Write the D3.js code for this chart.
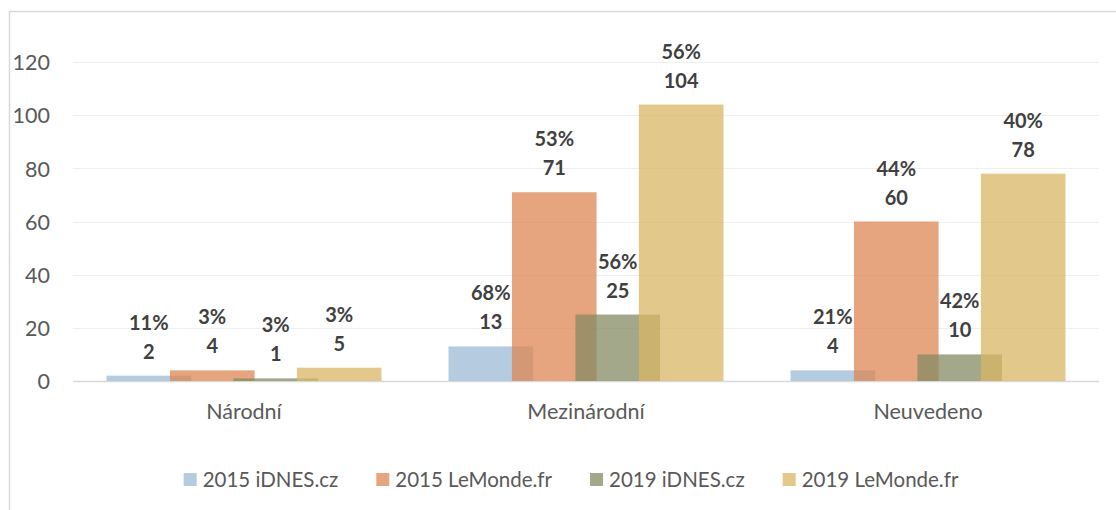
<!DOCTYPE html>
<html>
<head>
<meta charset="utf-8">
<script src="https://cdn.jsdelivr.net/npm/d3@7"></script>
<style>
  html, body { margin: 0; padding: 0; background: #fff; }
  svg { display: block; font-family: Lato, "Open Sans", sans-serif; }
</style>
</head>
<body>
<svg width="1116" height="510"></svg>
<script>
const categories = ['Národní', 'Mezinárodní', 'Neuvedeno'];
const seriesNames = ['2015 iDNES.cz', '2015 LeMonde.fr', '2019 iDNES.cz', '2019 LeMonde.fr'];
const idnes2015 = [2, 13, 4];
const lemonde2015 = [4, 71, 60];
const idnes2019 = [1, 25, 10];
const lemonde2019 = [5, 104, 78];
const pctIdnes2015 = ['11%', '68%', '21%'];
const pctLemonde2015 = ['3%', '53%', '44%'];
const pctIdnes2019 = ['3%', '56%', '42%'];
const pctLemonde2019 = ['3%', '56%', '40%'];
const yTicks = [0, 20, 40, 60, 80, 100, 120];

const values = [idnes2015, lemonde2015, idnes2019, lemonde2019];
const pcts = [pctIdnes2015, pctLemonde2015, pctIdnes2019, pctLemonde2019];
const colors = ['#9bbad6', '#dd8753', '#868b63', '#d8b764'];

const svg = d3.select('svg');

// chart frame (cropped at right and bottom in the original)
svg.append('rect')
  .attr('x', 9.5).attr('y', 11.5)
  .attr('width', 1120).attr('height', 520)
  .attr('fill', '#fff')
  .attr('stroke', '#d9d9d9')
  .attr('stroke-width', 1.5);

const left = 73;
const right = 1099;
const x = d3.scaleBand().domain(categories).range([left, right]).padding(0);
const y = d3.scaleLinear().domain([0, 120]).range([381, 62]);

const barW = x.bandwidth() * 0.2474;
const step = barW * 0.75;
const xs = d3.scalePoint().domain(seriesNames).range([-1.5 * step, 1.5 * step]);

// grid
svg.append('g')
  .selectAll('line')
  .data(yTicks)
  .join('line')
  .attr('x1', left).attr('x2', right)
  .attr('y1', d => Math.round(y(d)) + 0.5)
  .attr('y2', d => Math.round(y(d)) + 0.5)
  .attr('stroke', d => d === 0 ? '#d9d9d9' : '#efefef')
  .attr('stroke-width', d => d === 0 ? 1.5 : 1.2);

// y tick labels
const yAxis = d3.axisLeft(y).tickValues(yTicks).tickSize(0).tickPadding(0);
const gy = svg.append('g').attr('transform', 'translate(50,0)').call(yAxis);
gy.select('.domain').remove();
gy.selectAll('text')
  .attr('font-family', 'Lato, sans-serif')
  .attr('font-size', 21.5)
  .attr('fill', '#595959')
  .attr('dy', '0.36em');

// bars
seriesNames.forEach((s, si) => {
  svg.append('g')
    .selectAll('rect')
    .data(categories)
    .join('rect')
    .attr('x', (c) => x(c) + x.bandwidth() / 2 + xs(s) - barW / 2)
    .attr('width', barW)
    .attr('y', (c, i) => y(values[si][i]))
    .attr('height', (c, i) => y(0) - y(values[si][i]))
    .attr('fill', colors[si])
    .attr('fill-opacity', 0.75);
});

// data labels
seriesNames.forEach((s, si) => {
  const g = svg.append('g')
    .attr('font-family', 'Lato, sans-serif')
    .attr('font-weight', 'bold')
    .attr('font-size', 20)
    .attr('fill', '#404040')
    .attr('text-anchor', 'middle');
  categories.forEach((c, i) => {
    const cx = x(c) + x.bandwidth() / 2 + xs(s);
    const top = y(values[si][i]);
    g.append('text').attr('x', cx).attr('y', top - 46).text(pcts[si][i]);
    g.append('text').attr('x', cx).attr('y', top - 17).text(values[si][i]);
  });
});

// category labels
const xAxis = d3.axisBottom(x).tickSize(0).tickPadding(0);
const gx = svg.append('g').attr('transform', 'translate(0,419)').call(xAxis);
gx.select('.domain').remove();
gx.selectAll('text')
  .attr('font-family', 'Lato, sans-serif')
  .attr('font-size', 21.5)
  .attr('fill', '#595959')
  .attr('dy', 0);

// legend
const legend = svg.append('g');
const items = legend.selectAll('g')
  .data(seriesNames)
  .join('g');
items.append('rect')
  .attr('width', 13).attr('height', 13)
  .attr('y', 473)
  .attr('fill', (d, i) => colors[i])
  .attr('fill-opacity', 0.75);
items.append('text')
  .attr('x', 19)
  .attr('y', 487)
  .attr('font-family', 'Lato, sans-serif')
  .attr('font-size', 20.5)
  .attr('fill', '#595959')
  .text(d => d);

let cursor = 0;
const offsets = [];
items.each(function () {
  const w = this.querySelector('text').getComputedTextLength() + 19;
  offsets.push(cursor);
  cursor += w + 38;
});
const total = cursor - 38;
const startX = 571 - total / 2;
items.attr('transform', (d, i) => `translate(${startX + offsets[i]},0)`);
</script>
</body>
</html>
